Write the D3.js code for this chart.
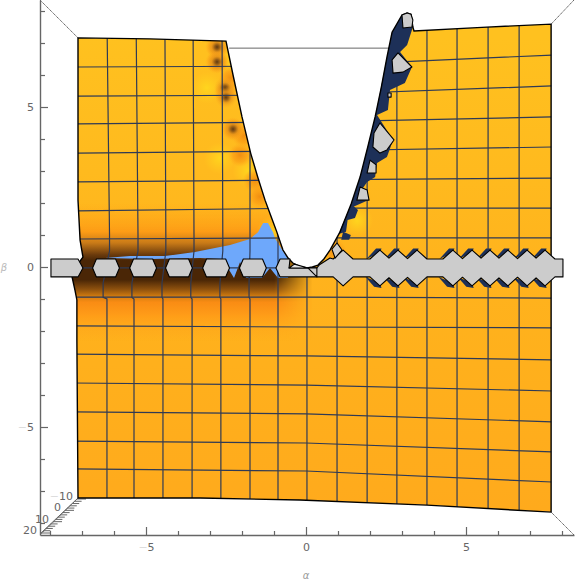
<!DOCTYPE html>
<html>
<head>
<meta charset="utf-8">
<script src="https://cdn.jsdelivr.net/npm/d3@7"></script>
<style>
    html, body { margin: 0; padding: 0; background: #fff; }
    svg { display: block; }
    text { font-family: "DejaVu Sans", sans-serif; }
</style>
</head>
<body>
<div id="chart"></div>
<script>
var xTicks = d3.range(-8, 9);
var yTicks = d3.range(-8, 9);
var majorTicks = [-5, 0, 5];
var depthTicks = d3.range(-10, 21, 2);
var depthLabels = [-10, 0, 10, 20];

var surfaceEdge = [[-7.125,7.16],[-4.88,7.13],[-2.5,7.06],[-2.28,6],[-2,4.69],[-1.73,3.56],[-1.5,2.78],[-1.28,2.09],[-1.1,1.6],[-0.91,1.09],[-0.72,0.53],[-0.56,0.28],[-0.41,0.125],[-0.2,0.02],[0.03,-0.03],[0.2,0],[0.375,0.06],[0.56,0.25],[0.75,0.53],[1.06,1.09],[1.41,1.97],[1.69,2.81],[1.93,3.75],[2.16,4.69],[2.35,5.6],[2.53,6.56],[2.69,7.34],[3,7.875],[3.16,7.94],[3.28,7.9],[3.34,7.5],[3.375,7.375],[5.5,7.49],[7.66,7.59],[7.66,-7.66],[3.78,-7.44],[-0.19,-7.28],[-3.31,-7.22],[-7.125,-7.22],[-7.16,-2.28],[-7.16,-1.03],[-7.22,-0.72],[-7.31,-0.31],[-7.2,0],[-6.97,0.31],[-7.06,0.84],[-7.125,2.09]];
var blueEdge = [[-6.28,0.28],[-5.5,0.34],[-4.41,0.34],[-3.47,0.47],[-2.375,0.69],[-1.75,0.875],[-1.5,1.09],[-1.34,1.375],[-1.19,1.375],[-1.03,1.09],[-0.97,0.9],[-0.78,0.59],[-0.56,0.25],[-0.56,-0.34],[-0.875,-0.34],[-1.125,-0.03],[-1.375,-0.34],[-1.875,-0.34],[-2.06,0.16],[-2.25,-0.34],[-2.44,-0.03],[-2.625,0.25],[-3.31,0.28],[-4.875,0.25]];
var navyRibbon = [[1.375,1.84],[1.69,2.81],[2.16,4.69],[2.53,6.56],[2.69,7.34],[3,7.875],[3.16,7.94],[3.34,7.5],[3.16,6.94],[2.94,6.72],[3.31,6.25],[3.09,5.75],[2.625,5.53],[2.56,4.91],[2.22,4.75],[2.72,3.97],[2.53,3.44],[2.22,3.25],[2.16,2.81],[1.91,2.66],[1.78,2.47],[1.94,2.09]];
var navyPatchA = [[1.41,1.97],[1.625,1.78],[1.53,1.53],[1.3,1.47],[1.25,1.1],[1.02,1.03]];
var navyPatchB = [[1.16,1.1],[1.4,1],[1.35,0.85],[1.1,0.85]];
var grayBlobs = [
    [[3,7.875],[3.16,7.94],[3.28,7.9],[3.34,7.72],[3.31,7.5],[3.03,7.47]],
    [[2.69,6.47],[2.875,6.69],[3.31,6.25],[3.03,6.09],[2.72,6.06]],
    [[2.31,4.5],[2.75,3.97],[2.53,3.66],[2.31,3.56],[2.09,3.75],[2.125,4.19]],
    [[2,3.34],[2.19,3.19],[2.19,2.94],[1.91,2.94]],
    [[1.69,2.5],[1.91,2.41],[1.97,2.09],[1.59,2.09]],
    [[2.56,5.44],[2.66,5.44],[2.66,5.31],[2.56,5.31]],
    [[0.81,0.56],[0.97,0.75],[1.125,0.53],[0.91,0.28]]
];
var hexCenters = [-6.25, -5.09, -3.97, -2.81, -1.66];
var leftStub = [[-7.97,0.25],[-7.125,0.25],[-6.97,-0.03],[-7.125,-0.31],[-7.97,-0.31]];
var barLeftTop = [[-0.94,-0.03],[-0.81,0.25],[-0.5,0.25],[-0.53,-0.03],[0.06,-0.03],[0.34,-0.03],[0.41,0.06],[0.75,0.28],[0.85,0.25]];
var barPeaks = [1.16, 2.31, 2.875, 3.47, 4.59, 5.19, 5.75, 6.31, 6.91, 7.47];
var barEndAlpha = 8.03;
var sliverTriangle = [[-0.53,-0.03],[-0.36,0.09],[0.06,-0.03]];
var sliverBox = [[0.06,-0.03],[0.34,-0.03],[0.34,-0.31]];

// mesh rows: beta at the left edge, at alpha 0, at the right edge
var rowAlphas = [-7.3, 0, 7.7];
var rowLeft = [6.25,5.34,4.47,3.56,2.66,1.75,0.875,-0.03,-0.94,-1.84,-2.72,-3.625,-4.53,-5.44,-6.31];
var rowMid = [6.28,5.375,4.53,3.625,2.72,1.84,0.91,-0.03,-0.94,-1.875,-2.78,-3.69,-4.59,-5.5,-6.375];
var rowRight = [6.625,5.66,4.69,3.75,2.78,1.84,0.91,-0.03,-0.97,-1.9,-2.9,-3.875,-4.84,-5.78,-6.72];
// mesh columns: alpha at the top, just above the bar, just below it, and at the bottom
var colTop = [-6.22,-5.31,-4.41,-3.53,-2.625,-1.75,-0.875,0.03,0.97,1.91,2.84,3.78,4.72,5.69,6.66];
var colAbove = [-6.14,-5.25,-4.38,-3.5,-2.6,-1.75,-0.875,0.03,0.97,1.91,2.84,3.78,4.72,5.69,6.66];
var colBelow = [-6.34,-5.44,-4.5,-3.6,-2.69,-1.78,-0.875,0.03,0.97,1.91,2.84,3.78,4.72,5.69,6.66];
var colBottom = [-6.22,-5.375,-4.47,-3.56,-2.66,-1.75,-0.875,0.03,0.97,1.91,2.84,3.78,4.72,5.69,6.66];

// colour along beta
var baseBeta = [7.2, 3, 0, -3, -7.6];
var baseColor = ["#ffc11f", "#ffba1e", "#ffb31d", "#ffb01c", "#ffaa1c"];
var bandBeta = [2.0, 1.1, 0.75, 0.38, 0.2, -0.4, -0.7, -0.94, -1.1, -1.5, -2.3];
var bandColor = ["#ffa818", "#fd9c16", "#c87a18", "#6a3a0c", "#4a2606", "#4a2606", "#8f520e", "#d9800f", "#f98c14", "#ff9c18", "#ffaa1c"];
var bandOpacity = [0, 1, 1, 1, 1, 1, 1, 1, 1, 1, 0];

var darkSpots = [[-2.78,6.875],[-2.78,6.41],[-2.53,5.6],[-2.5,5.3],[-2.28,4.31]];
var orangeSpots = [[-2.06,3.5],[-2.35,5.9],[-1.6,2.7],[-1.45,2.2],[-0.7,0.45],[0.9,0.5],[-1.95,4.1],[-2.78,6.875],[-2.78,6.41],[-2.5,5.45],[-2.28,4.31]];
var yellowSpots = [[-1.05,1.1],[1.6,1.45],[-1.8,3],[-2.2,6.5],[-3.1,5.6],[-2.7,3.4]];

var width = 576, height = 583;

var x = d3.scaleLinear().domain([-8.3125, 8.375]).range([40, 574]);
var y = d3.scaleLinear().domain([-8.375, 8.344]).range([535, 0]);
var depthX = d3.scaleLinear().domain([-10, 20]).range([77, 41]);
var depthY = d3.scaleLinear().domain([-10, 20]).range([499, 533]);

var line = d3.line().x(function (d) { return x(d[0]); }).y(function (d) { return y(d[1]); });
var poly = d3.line().x(function (d) { return x(d[0]); }).y(function (d) { return y(d[1]); }).curve(d3.curveLinearClosed);

var svg = d3.select("#chart").append("svg").attr("width", width).attr("height", height);
var defs = svg.append("defs");

function verticalGradient(id, betas, colors, opacities) {
    var g = defs.append("linearGradient").attr("id", id)
        .attr("gradientUnits", "userSpaceOnUse")
        .attr("x1", 0).attr("x2", 0)
        .attr("y1", y(betas[0])).attr("y2", y(betas[betas.length - 1]));
    betas.forEach(function (b, i) {
        g.append("stop")
            .attr("offset", (b - betas[0]) / (betas[betas.length - 1] - betas[0]))
            .attr("stop-color", colors[i])
            .attr("stop-opacity", opacities ? opacities[i] : 1);
    });
}
verticalGradient("baseFill", baseBeta, baseColor);
verticalGradient("bandFill", bandBeta, bandColor, bandOpacity);

function spotGradient(id, stops) {
    var g = defs.append("radialGradient").attr("id", id);
    stops.forEach(function (s) {
        g.append("stop").attr("offset", s[0]).attr("stop-color", s[1]).attr("stop-opacity", s[2]);
    });
}
spotGradient("darkSpot", [[0, "#5f3a12", 1], [0.22, "#8f5815", 0.9], [0.5, "#e0901a", 0.6], [1, "#ffa81c", 0]]);
spotGradient("orangeSpot", [[0, "#f08c10", 0.95], [0.6, "#fa9a14", 0.6], [1, "#ffa81c", 0]]);
spotGradient("yellowSpot", [[0, "#ffd81e", 0.9], [1, "#ffd01e", 0]]);

// band fades out to the right, just past alpha 0
var fade = defs.append("linearGradient").attr("id", "bandFade")
    .attr("gradientUnits", "userSpaceOnUse")
    .attr("x1", x(-1.0)).attr("x2", x(0.2)).attr("y1", 0).attr("y2", 0);
fade.append("stop").attr("offset", 0).attr("stop-color", "#fff");
fade.append("stop").attr("offset", 1).attr("stop-color", "#000");
defs.append("mask").attr("id", "bandMask").attr("maskUnits", "userSpaceOnUse")
    .attr("x", 0).attr("y", 0).attr("width", width).attr("height", height)
    .append("rect").attr("width", width).attr("height", height).attr("fill", "url(#bandFade)");

defs.append("clipPath").attr("id", "surfaceClip").append("path").attr("d", poly(surfaceEdge));

// box frame and axes
var frameColor = "#666";
var corners = [[[-8.3125,8.344],[-7.125,7.16]], [[8.375,8.344],[7.66,7.59]], [[8.375,-8.375],[7.66,-7.66]], [[-8.3125,-8.375],[-7.125,-7.22]]];
svg.selectAll(".corner").data(corners).enter().append("path")
    .attr("class", "corner")
    .attr("d", line).attr("fill", "none").attr("stroke", frameColor).attr("stroke-width", 1)
    .attr("stroke-dasharray", "1.5 0.5");

svg.append("path").attr("d", line([[-2.4,6.84],[2.7,6.84]]))
    .attr("fill", "none").attr("stroke", frameColor).attr("stroke-width", 1);

function styleAxis(g) {
    g.selectAll("line").attr("stroke", frameColor).attr("stroke-width", 1.2);
    g.select(".domain").attr("stroke", frameColor).attr("stroke-width", 1.4);
    g.selectAll("text").attr("fill", frameColor).style("font-size", "11px");
    // the minus signs print very faint in the original
    g.selectAll("text").each(function (d) {
        var t = d3.select(this);
        if (majorTicks.indexOf(d) < 0) { t.text(""); return; }
        t.text("");
        if (d < 0) t.append("tspan").attr("fill", "#ddd").text("\u2212");
        t.append("tspan").text(Math.abs(d));
    });
}

var xAxis = svg.append("g").attr("transform", "translate(0," + y(-8.375) + ")")
    .call(d3.axisBottom(x).tickValues(xTicks).tickSizeInner(-4).tickSizeOuter(0).tickPadding(8))
    .call(styleAxis);
xAxis.selectAll(".tick").filter(function (d) { return majorTicks.indexOf(d) >= 0; })
    .select("line").attr("y2", -8);
xAxis.selectAll("text").attr("y", 8);

var yAxis = svg.append("g").attr("transform", "translate(" + x(-8.3125) + ",0)")
    .call(d3.axisLeft(y).tickValues(yTicks).tickSizeInner(-5).tickSizeOuter(0).tickPadding(6))
    .call(styleAxis);
yAxis.selectAll(".tick").filter(function (d) { return majorTicks.indexOf(d) >= 0; })
    .select("line").attr("x2", 8);

svg.append("text").attr("x", x(0)).attr("y", 579).attr("text-anchor", "middle")
    .attr("fill", "#999").style("font-size", "10px").style("font-style", "italic").text("\u03b1");
svg.append("text").attr("x", 4).attr("y", y(-0.03) + 3).attr("text-anchor", "middle")
    .attr("fill", "#bbb").style("font-size", "10px").style("font-style", "italic").text("\u03b2");

// depth axis on the lower left diagonal, ticks point right
svg.append("line")
    .attr("x1", depthX(-10)).attr("y1", depthY(-10)).attr("x2", depthX(20)).attr("y2", depthY(20))
    .attr("stroke", frameColor).attr("stroke-width", 1);
svg.selectAll(".depthTick").data(depthTicks).enter().append("line")
    .attr("class", "depthTick")
    .attr("x1", function (d) { return depthX(d); })
    .attr("x2", function (d) { return depthX(d) + (depthLabels.indexOf(d) >= 0 ? 9 : 7); })
    .attr("y1", function (d) { return depthY(d); })
    .attr("y2", function (d) { return depthY(d); })
    .attr("stroke", frameColor).attr("stroke-width", 1);
var depthText = svg.selectAll(".depthLabel").data(depthLabels).enter().append("text")
    .attr("class", "depthLabel")
    .attr("x", function (d) { return depthX(d) - 4; })
    .attr("y", function (d) { return depthY(d) + 1; })
    .attr("text-anchor", "end")
    .attr("fill", frameColor)
    .style("font-size", "11px");
depthText.each(function (d) {
    var t = d3.select(this);
    if (d < 0) t.append("tspan").attr("fill", "#ddd").text("\u2212");
    t.append("tspan").text(Math.abs(d));
});

// surface
var surface = svg.append("g").attr("clip-path", "url(#surfaceClip)");
surface.append("path").attr("d", poly(surfaceEdge)).attr("fill", "url(#baseFill)");
surface.append("rect")
    .attr("x", x(-8.3125)).attr("width", x(0.9) - x(-8.3125))
    .attr("y", y(2.0)).attr("height", y(-2.3) - y(2.0))
    .attr("fill", "url(#bandFill)")
    .attr("mask", "url(#bandMask)");

function spots(list, gradient, r) {
    surface.selectAll(".s-" + gradient).data(list).enter().append("circle")
        .attr("class", "s-" + gradient)
        .attr("cx", function (d) { return x(d[0]); })
        .attr("cy", function (d) { return y(d[1]); })
        .attr("r", r)
        .attr("fill", "url(#" + gradient + ")");
}
spots(yellowSpots, "yellowSpot", 16);
spots(orangeSpots, "orangeSpot", 12);
spots(darkSpots, "darkSpot", 11);

surface.append("path").attr("d", poly(blueEdge)).attr("fill", "#6ea8fb");

// navy wedges behind the spikes of the bar
var navy = "#1d3058";
function wedge(a, sign) {
    return sign > 0
        ? [[a - 0.42, 0.25], [a - 0.12, 0.58], [a + 0.05, 0.58], [a, 0.45]]
        : [[a - 0.45, -0.31], [a - 0.18, -0.62], [a + 0.05, -0.66], [a, -0.5]];
}
barPeaks.slice(1).forEach(function (a) {
    svg.append("path").attr("d", poly(wedge(a, 1))).attr("fill", navy);
    svg.append("path").attr("d", poly(wedge(a, -1))).attr("fill", navy);
});

// mesh
var mesh = svg.append("g").attr("clip-path", "url(#surfaceClip)")
    .attr("fill", "none").attr("stroke", "#2f3a55").attr("stroke-width", 1.2);
rowLeft.forEach(function (b, i) {
    mesh.append("path").attr("d", line([[rowAlphas[0], b], [rowAlphas[1], rowMid[i]], [rowAlphas[2], rowRight[i]]]));
});
colTop.forEach(function (a, i) {
    mesh.append("path").attr("d", line([[a, 7.8], [colAbove[i], 1.0], [colAbove[i], 0.5], [colBelow[i], -0.5], [colBelow[i], -0.95], [colBottom[i], -1.0], [colBottom[i], -7.8]]));
});

// dark ribbon along the right rim
svg.append("path").attr("d", poly(navyRibbon)).attr("fill", navy);
svg.append("path").attr("d", poly(navyPatchA)).attr("fill", navy);
svg.append("path").attr("d", poly(navyPatchB)).attr("fill", navy);

svg.append("path").attr("d", poly(surfaceEdge))
    .attr("fill", "none").attr("stroke", "#000").attr("stroke-width", 1.4);

// gray bar along beta = 0
var gray = "#cccccc";
var barTop = 0.25, barBottom = -0.31, peakHalf = 0.31, peakRise = 0.28;

function barPath() {
    var top = [], bottom = [];
    barPeaks.forEach(function (a, i) {
        var prev = barPeaks[i - 1], next = barPeaks[i + 1];
        var leftGap = prev === undefined ? Infinity : a - prev;
        var rightGap = next === undefined ? Infinity : next - a;
        if (leftGap >= 2 * peakHalf) {
            top.push([a - peakHalf, barTop]);
            bottom.push([a - peakHalf, barBottom]);
        }
        top.push([a, barTop + peakRise]);
        bottom.push([a, barBottom - peakRise]);
        if (rightGap >= 2 * peakHalf) {
            top.push([a + peakHalf, barTop]);
            bottom.push([a + peakHalf, barBottom]);
        } else {
            var dip = peakRise * (1 - (rightGap / 2) / peakHalf);
            top.push([a + rightGap / 2, barTop + dip]);
            bottom.push([a + rightGap / 2, barBottom - dip]);
        }
    });
    top.push([barEndAlpha, barTop]);
    bottom.push([barEndAlpha, barBottom]);
    var leftBottom = [[-0.81, barBottom]];
    return barLeftTop.concat(top).concat(bottom.reverse()).concat(leftBottom);
}

function shape(points, fill) {
    svg.append("path").attr("d", poly(points))
        .attr("fill", fill).attr("stroke", "#000").attr("stroke-width", 1.1)
        .attr("stroke-linejoin", "round");
}
shape(barPath(), gray);
shape(sliverTriangle, "#e4e4e4");
shape(sliverBox, gray);
shape(leftStub, gray);

hexCenters.forEach(function (c) {
    shape([[c - 0.3, barTop], [c + 0.3, barTop], [c + 0.42, -0.03], [c + 0.3, barBottom], [c - 0.3, barBottom], [c - 0.42, -0.03]], gray);
});
grayBlobs.forEach(function (b) { shape(b, gray); });
</script>
</body>
</html>
